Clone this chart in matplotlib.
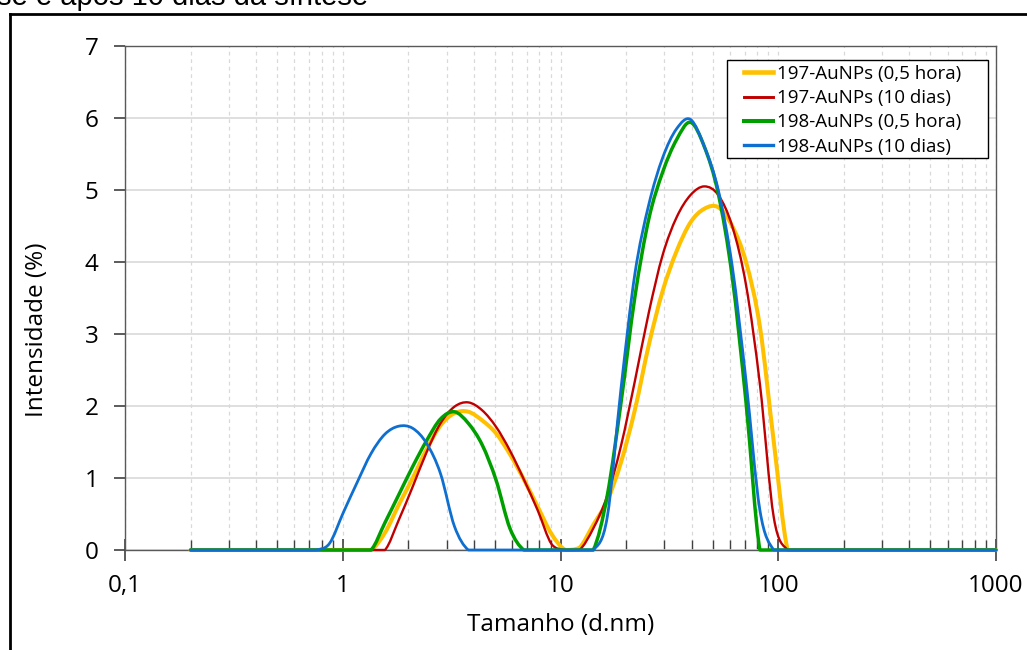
import numpy as np
import matplotlib
matplotlib.use("Agg")
import matplotlib.pyplot as plt
from matplotlib.path import Path
from matplotlib.patches import PathPatch, Rectangle
from matplotlib.lines import Line2D
from matplotlib.ticker import FixedLocator, FixedFormatter, LogLocator, NullFormatter

plt.rcParams['font.family'] = ['Open Sans', 'DejaVu Sans']

# ---------------- data ----------------
tamanho = [0.2, 0.2317, 0.2683, 0.3108, 0.3599, 0.4169, 0.4828, 0.5592, 0.6477, 0.7501,
           0.8687, 1.006, 1.165, 1.349, 1.563, 1.810, 2.096, 2.428, 2.812, 3.257,
           3.772, 4.369, 5.060, 5.860, 6.787, 7.861, 9.105, 10.54, 12.21, 14.14,
           16.38, 18.97, 21.97, 25.45, 29.47, 34.13, 39.54, 45.79, 53.03, 61.42,
           71.13, 82.39, 95.41, 110.5, 128.0, 148.2, 171.7, 198.8, 230.3, 266.7,
           308.9, 357.7, 414.3, 479.9, 555.8, 643.7, 745.5, 863.4, 1000.0]

au197_05h = [0, 0, 0, 0, 0, 0, 0, 0, 0, 0,
             0, 0, 0, 0, 0.24, 0.63, 1.00, 1.40, 1.73, 1.90,
             1.92, 1.80, 1.62, 1.33, 0.98, 0.60, 0.22, 0, 0.03, 0.35,
             0.68, 1.22, 1.95, 2.85, 3.60, 4.15, 4.55, 4.74, 4.76, 4.50,
             4.00, 3.10, 1.50, 0, 0, 0, 0, 0, 0, 0,
             0, 0, 0, 0, 0, 0, 0, 0, 0]

au197_10d = [0, 0, 0, 0, 0, 0, 0, 0, 0, 0,
             0, 0, 0, 0, 0, 0.42, 0.88, 1.36, 1.76, 1.99,
             2.05, 1.94, 1.71, 1.38, 0.98, 0.55, 0.08, 0, 0, 0.30,
             0.75, 1.45, 2.35, 3.30, 4.10, 4.62, 4.93, 5.05, 4.93, 4.50,
             3.68, 2.30, 0.45, 0, 0, 0, 0, 0, 0, 0,
             0, 0, 0, 0, 0, 0, 0, 0, 0]

au198_05h = [0, 0, 0, 0, 0, 0, 0, 0, 0, 0,
             0, 0, 0, 0, 0.38, 0.77, 1.16, 1.52, 1.82, 1.92,
             1.76, 1.46, 0.97, 0.30, 0, 0, 0, 0, 0, 0,
             0.75, 2.05, 3.52, 4.60, 5.25, 5.70, 5.94, 5.60, 4.95, 3.80,
             2.05, 0, 0, 0, 0, 0, 0, 0, 0, 0,
             0, 0, 0, 0, 0, 0, 0, 0, 0]

au198_10d = [0, 0, 0, 0, 0, 0, 0, 0, 0, 0,
             0.09, 0.52, 0.94, 1.34, 1.61, 1.72, 1.69, 1.48, 1.06, 0.33,
             0, 0, 0, 0, 0, 0, 0, 0, 0, 0,
             0.45, 2.25, 3.84, 4.80, 5.45, 5.85, 5.98, 5.60, 5.00, 3.95,
             2.35, 0.55, 0, 0, 0, 0, 0, 0, 0, 0,
             0, 0, 0, 0, 0, 0, 0, 0, 0]

series_labels = ["197-AuNPs (0,5 hora)", "197-AuNPs (10 dias)",
                 "198-AuNPs (0,5 hora)", "198-AuNPs (10 dias)"]
series_values = [au197_05h, au197_10d, au198_05h, au198_10d]
series_colors = ["#FFC000", "#C00000", "#009F00", "#0F6FD0"]
series_widths = [2.9, 1.7, 2.5, 2.0]

x_ticks = [0.1, 1, 10, 100, 1000]
x_tick_labels = ["0,1", "1", "10", "100", "1000"]
y_ticks = [0, 1, 2, 3, 4, 5, 6, 7]


def smooth_path(xs, ys):
    """Excel-like smoothed line: cubic Bezier (Catmull-Rom) in log-x space."""
    lx = np.log10(np.asarray(xs, float))
    yy = np.asarray(ys, float)
    n = len(lx)
    verts = [(lx[0], yy[0])]
    codes = [Path.MOVETO]
    for i in range(n - 1):
        p0 = i - 1 if i > 0 else i
        p3 = i + 2 if i + 2 < n else i + 1
        c1 = (lx[i] + (lx[i + 1] - lx[p0]) / 6.0, max(0.0, yy[i] + (yy[i + 1] - yy[p0]) / 6.0))
        c2 = (lx[i + 1] - (lx[p3] - lx[i]) / 6.0, max(0.0, yy[i + 1] - (yy[p3] - yy[i]) / 6.0))
        verts += [c1, c2, (lx[i + 1], yy[i + 1])]
        codes += [Path.CURVE4] * 3
    verts = [(10 ** vx, vy) for vx, vy in verts]
    return Path(verts, codes)


W, H = 1027, 650
fig = plt.figure(figsize=(W / 100, H / 100), dpi=100)
ax = fig.add_axes([125 / W, 1 - 550 / H, (996 - 125) / W, (550 - 46) / H])

ax.set_xscale('log')
ax.set_xlim(0.1, 1000)
ax.set_ylim(0, 7)

# grid
ax.set_axisbelow(True)
ax.yaxis.grid(True, which='major', color='#D9D9D9', lw=1.2)
ax.xaxis.grid(True, which='both', color='#D9D9D9', lw=0.9, ls=(0, (3, 3)))

for s in ax.spines.values():
    s.set_color('#595959')
    s.set_linewidth(1.0)

ax.xaxis.set_major_locator(FixedLocator(x_ticks))
ax.xaxis.set_major_formatter(FixedFormatter(x_tick_labels))
ax.xaxis.set_minor_locator(LogLocator(base=10, subs=np.arange(2, 10), numticks=20))
ax.xaxis.set_minor_formatter(NullFormatter())
ax.set_yticks(y_ticks)
ax.set_yticklabels([str(v) for v in y_ticks])

ax.tick_params(axis='x', which='major', direction='inout', length=16, width=1.2,
               color='#404040', labelsize=17.5, pad=9, labelcolor='black')
ax.tick_params(axis='x', which='minor', direction='in', length=7, width=1.0, color='#404040')
ax.tick_params(axis='y', which='major', direction='out', length=8, width=1.2,
               color='#404040', labelsize=17.5, pad=11, labelcolor='black')

handles = []
for vals, lab, col, lw in zip(series_values, series_labels, series_colors, series_widths):
    patch = PathPatch(smooth_path(tamanho, vals), fill=False, edgecolor=col, lw=lw,
                      joinstyle='round', capstyle='round', clip_on=False, zorder=3)
    ax.add_patch(patch)
    handles.append(Line2D([], [], color=col, lw=lw + 0.4, label=lab))

# legend frame drawn separately (asymmetric padding as in the reference)
frame = Rectangle((727 / W, 1 - 158 / H), 261 / W, 98 / H, transform=fig.transFigure,
                  facecolor='white', edgecolor='black', lw=1.0, zorder=5, clip_on=False)
ax.add_patch(frame)
leg = ax.legend(handles=handles, loc='upper left',
                bbox_to_anchor=(744 / W, 1 - 65 / H), bbox_transform=fig.transFigure,
                fontsize=13.5, frameon=False, borderpad=0, handlelength=1.55,
                handletextpad=0.2, labelspacing=0.33, borderaxespad=0)
leg.set_zorder(6)

fig.text(37 / W, 1 - 330 / H, 'Intensidade (%)', rotation=90, ha='center', va='center', fontsize=17.5)
fig.text(561 / W, 1 - 625 / H, 'Tamanho (d.nm)', ha='center', va='center', fontsize=17.5)

# cropped title and outer frame
fig.text(-3 / W, 1 - 5 / H, 'se e após 10 dias da síntese', ha='left', va='baseline',
         fontsize=21, family=['Liberation Sans', 'DejaVu Sans'])
fig.add_artist(Line2D([10 / W, 10 / W], [-0.01, 1 - 14 / H], transform=fig.transFigure,
                      color='black', lw=2.0))
fig.add_artist(Line2D([10 / W, 1.01], [1 - 14 / H, 1 - 14 / H], transform=fig.transFigure,
                      color='black', lw=2.0))

fig.savefig('out.png', dpi=100)
